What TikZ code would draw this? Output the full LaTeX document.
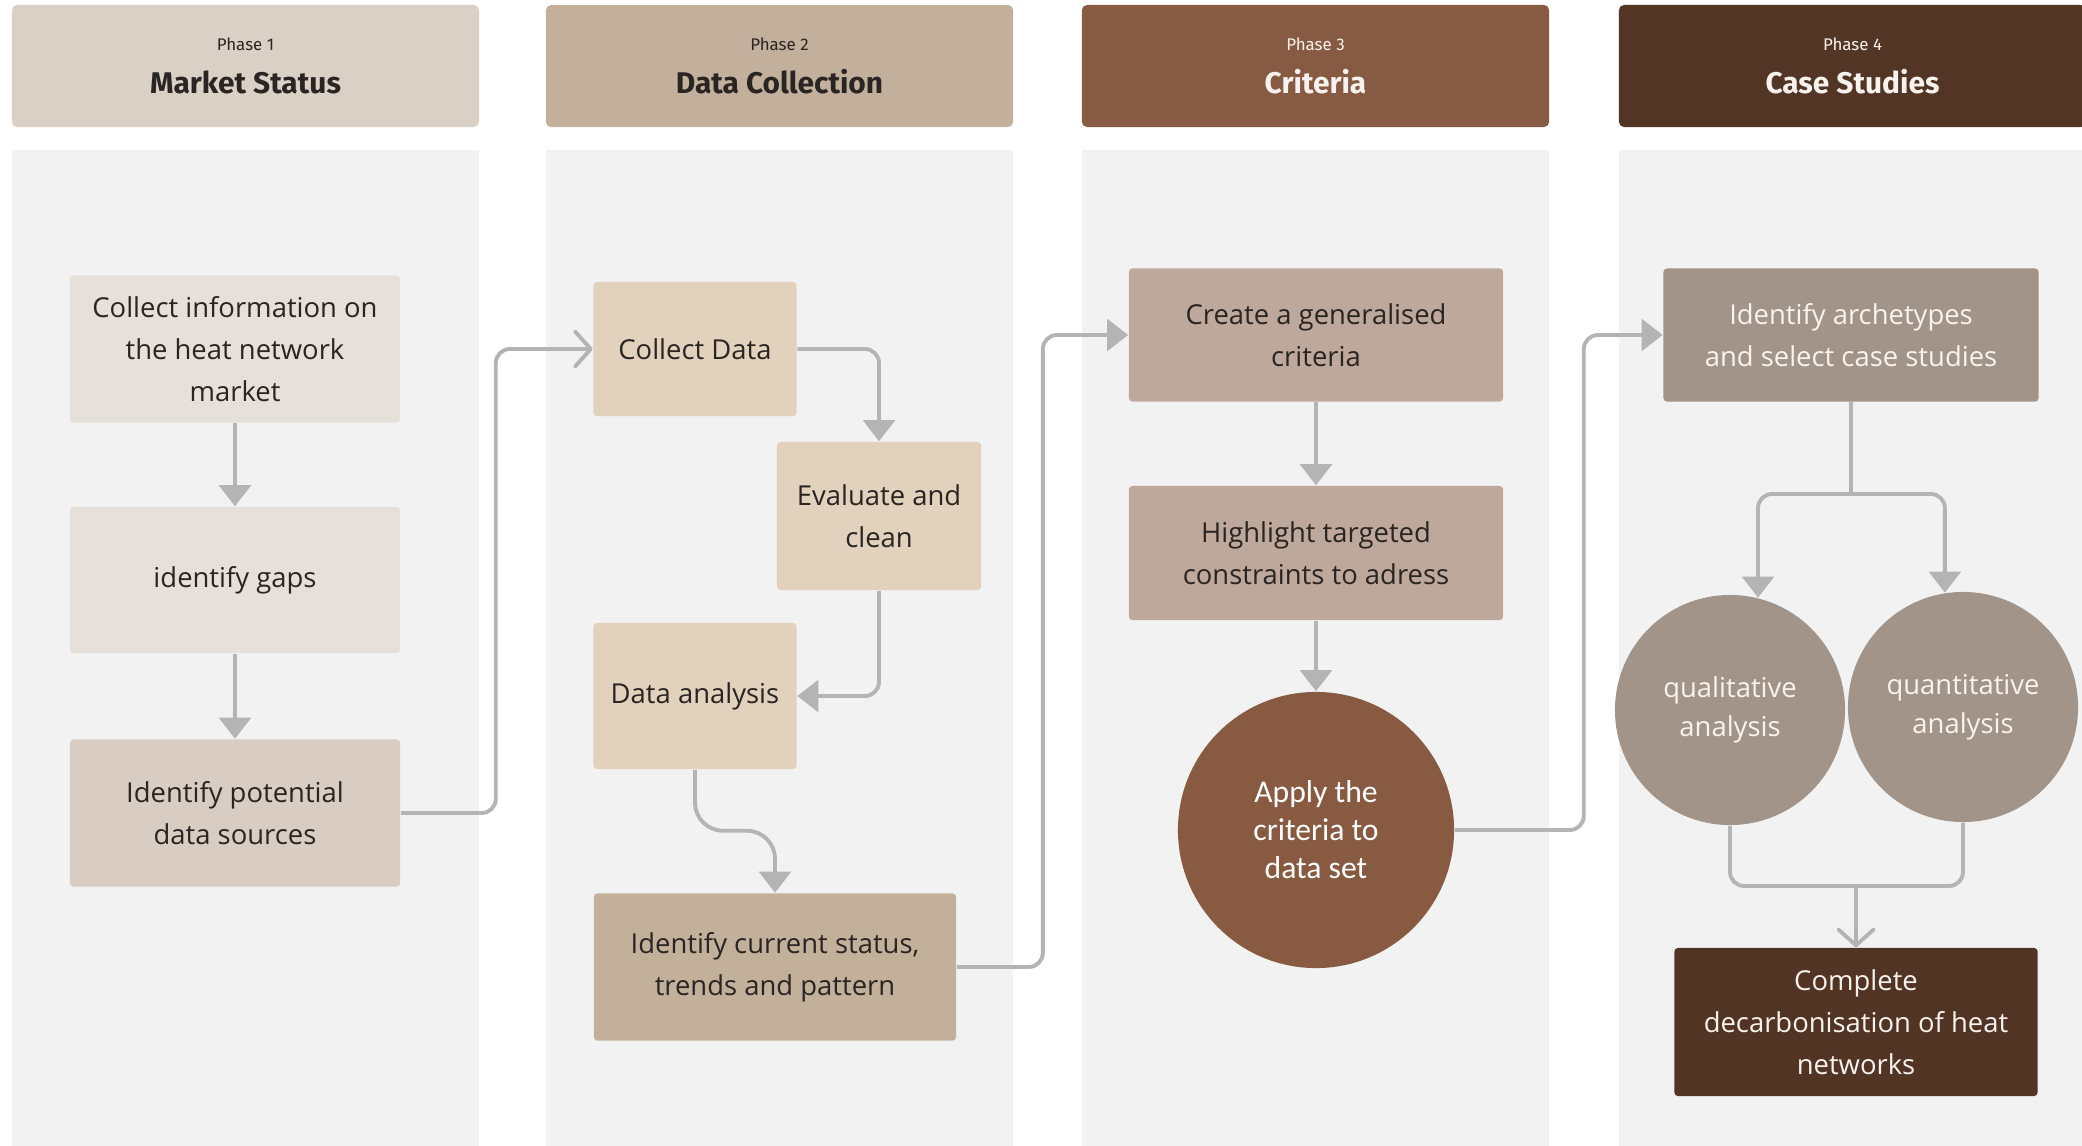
\documentclass[tikz,border=0pt]{standalone}
\usepackage{fontspec}
\setmainfont{Open Sans}
\newfontfamily\headfont{Fira Sans}
\newfontfamily\calfont{Carlito}
\usetikzlibrary{arrows.meta,positioning}

\definecolor{panelgray}{HTML}{F2F2F2}
\definecolor{headA}{HTML}{DBD0C6}
\definecolor{headB}{HTML}{C2B09C}
\definecolor{headC}{HTML}{875B43}
\definecolor{headD}{HTML}{533526}
\definecolor{inkdark}{HTML}{2A2422}
\definecolor{inklight}{HTML}{F8F3EE}
\definecolor{greyA}{HTML}{E6E0DB}
\definecolor{greyB}{HTML}{D9CCC2}
\definecolor{sandA}{HTML}{E1D1BD}
\definecolor{sandB}{HTML}{C3B09B}
\definecolor{roseA}{HTML}{BEA89B}
\definecolor{brownA}{HTML}{875A41}
\definecolor{taupeA}{HTML}{A39489}
\definecolor{brownB}{HTML}{523425}
\definecolor{arrowgray}{HTML}{B4B4B4}

\tikzset{
  phasebox/.style={rectangle, rounded corners=1.5pt, minimum width=4.67cm, minimum height=1.22cm, align=center, inner sep=0pt},
  stepbox/.style={rectangle, rounded corners=1pt, align=center, inner sep=0pt, text=inkdark, font=\fontsize{7.8}{12}\selectfont},
  roundbox/.style={circle, align=center, inner sep=0pt, text=inklight, font=\fontsize{7.8}{11}\selectfont},
  flow/.style={draw=arrowgray, line width=1.1pt, rounded corners=4pt},
  tip/.style={-{Triangle[length=6pt,width=9pt]}},
  opentip/.style={-{Straight Barb[length=4.5pt,width=10pt,round]}}
}

\begin{document}
\begin{tikzpicture}[x=0.01cm,y=-0.01cm]
\clip (0,0) rectangle (2082,1145);
\fill[white] (0,0) rectangle (2082,1145);

% phase columns and headers
\foreach \px/\ph/\name/\hc/\tc in {12/1/Market Status/headA/inkdark, 546/2/Data Collection/headB/inkdark, 1082/3/Criteria/headC/inklight, 1619/4/Case Studies/headD/inklight}{
  \fill[panelgray] (\px,150) rectangle ++(467,1000);
  \node[phasebox, fill=\hc, text=\tc] (phase\ph) at (\px+233.5,66)
    {{\headfont\fontsize{4.8}{6}\selectfont Phase \ph}\\[0pt]{\headfont\bfseries\fontsize{8.5}{10}\selectfont \name}};
}

% phase 1
\node[stepbox, fill=greyA, minimum width=3.30cm, minimum height=1.47cm] (info) at (235,349) {Collect information on\\the heat network\\market};
\node[stepbox, fill=greyA, minimum width=3.30cm, minimum height=1.46cm] (gaps) at (235,580) {identify gaps};
\node[stepbox, fill=greyB, minimum width=3.30cm, minimum height=1.47cm] (sources) at (235,813) {Identify potential\\data sources};

% phase 2
\node[stepbox, fill=sandA, minimum width=2.03cm, minimum height=1.34cm] (cdata) at (695,349) {Collect Data};
\node[stepbox, fill=sandA, minimum width=2.04cm, minimum height=1.48cm] (clean) at (879,516) {Evaluate and\\clean};
\node[stepbox, fill=sandA, minimum width=2.03cm, minimum height=1.46cm] (analysis) at (695,696) {Data analysis};
\node[stepbox, fill=sandB, minimum width=3.62cm, minimum height=1.47cm] (status) at (775,967) {Identify current status,\\trends and pattern};

% phase 3
\node[stepbox, fill=roseA, minimum width=3.74cm, minimum height=1.33cm] (general) at (1316,335) {Create a generalised\\criteria};
\node[stepbox, fill=roseA, minimum width=3.74cm, minimum height=1.34cm] (target) at (1316,553) {Highlight targeted\\constraints to adress};
\node[roundbox, fill=brownA, minimum size=2.76cm, font=\calfont\fontsize{9}{10.8}\selectfont, text=white] (apply) at (1316,830) {Apply the\\criteria to\\data set};

% phase 4
\node[stepbox, fill=taupeA, text=inklight, minimum width=3.75cm, minimum height=1.33cm] (arch) at (1851,335) {Identify archetypes\\and select case studies};
\node[roundbox, fill=taupeA, minimum size=2.30cm] (qual) at (1730,710) {qualitative\\analysis};
\node[roundbox, fill=taupeA, minimum size=2.30cm] (quant) at (1963,707) {quantitative\\analysis};
\node[stepbox, fill=brownB, text=inklight, minimum width=3.63cm, minimum height=1.48cm] (decarb) at (1856,1022) {Complete\\decarbonisation of heat\\networks};

% connectors
\draw[flow, tip] (info) -- (gaps);
\draw[flow, tip] (gaps) -- (sources);
\draw[flow, opentip] (sources.east) -- ++(95,0) |- (cdata.west);
\draw[flow, tip] (cdata.east) -| (clean.north);
\draw[flow, tip] (clean.south) |- (analysis.east);
\draw[flow, tip, rounded corners=8pt] (analysis.south) -- ++(0,61) -| (status.north);
\draw[flow, tip] (status.east) -- ++(86,0) |- (general.west);
\draw[flow, tip] (general) -- (target);
\draw[flow, tip] (target) -- (apply);
\draw[flow, tip] (apply.east) -- ++(129,0) |- (arch.west);
\coordinate (split) at (1851,494);
\coordinate (merge) at (1856,886);
\draw[flow] (arch.south) -- (split);
\draw[flow, tip] (split) -| (qual.76);
\draw[flow, tip] (split) -| (quant.99);
\draw[flow] (qual.south) |- (merge) -| (quant.south);
\draw[flow, opentip] (merge) -- (decarb.north);
\end{tikzpicture}
\end{document}
